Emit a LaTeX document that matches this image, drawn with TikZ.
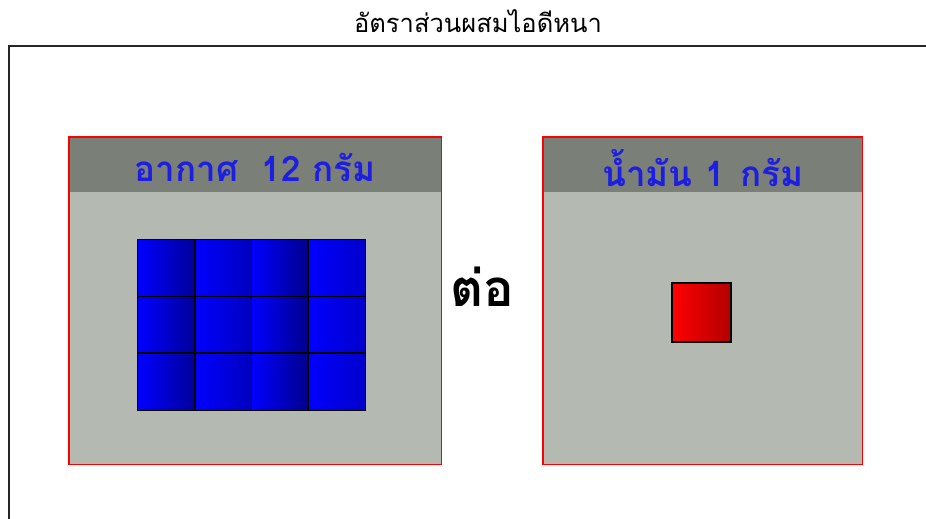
\documentclass[tikz,border=0pt]{standalone}
\usepackage{fontspec}
\newfontfamily\thaifont[Script=Thai]{Loma}
\usetikzlibrary{positioning}
\definecolor{panelgray}{RGB}{180,186,178}
\definecolor{headgray}{RGB}{122,128,120}
\definecolor{headblue}{RGB}{30,30,225}

\begin{document}
\begin{tikzpicture}[
  x=1pt, y=-1pt,
  panel/.style={fill=panelgray, inner sep=0pt, anchor=north west},
  rim/.style={draw=red, line width=1.6pt},
  header/.style={fill=headgray, inner sep=0pt, minimum height=55pt, anchor=north},
  headtext/.style={font=\thaifont\bfseries\fontsize{35}{35}\selectfont, text=headblue, inner sep=0pt},
  cell/.style={minimum width=56.75pt, minimum height=56.67pt, inner sep=0pt},
  edge/.style={draw=black, line width=1.3pt},
  title/.style={font=\thaifont\fontsize{25.5}{25.5}\selectfont}
]
\useasboundingbox (0,0) rectangle (926,519);

% outer frame
\draw[line width=1.8pt, black!85] (9,519) -- (9,46) -- (926,46);
\node[title] (title) at (478,21) {อัตราส่วนผสมไอดีหนา};

% air panel
\node[panel, minimum width=372pt, minimum height=327pt] (airpanel) at (69,137) {};
\node[header, minimum width=372pt] (airhead) at (airpanel.north) {};
\node[headtext] (airlabel) at ([yshift=-3pt]airhead.center) {อากาศ~~12 กรัม};
\draw[rim] (airpanel.north west) rectangle (airpanel.south east);
\foreach \col/\shade in {0/60,1/75,2/55,3/80}
  \foreach \row in {0,1,2}
    \node[cell, left color=blue, right color=blue!\shade!black] (air\col\row)
      at ({166.4+\col*56.75},{268.3+\row*56.67}) {};
\foreach \col in {0,...,3}
  \foreach \row in {0,1,2}
    \draw[edge] (air\col\row.north west) rectangle (air\col\row.south east);

% fuel panel
\node[panel, minimum width=319pt, minimum height=327pt] (fuelpanel) at (543,137) {};
\node[header, minimum width=319pt] (fuelhead) at (fuelpanel.north) {};
\node[headtext] (fuellabel) at ([yshift=-3pt]fuelhead.center) {น้ำมัน\hspace{13pt}1\hspace{15pt}กรัม};
\draw[rim] (fuelpanel.north west) rectangle (fuelpanel.south east);
\node[cell, edge, minimum width=59pt, minimum height=59pt, left color=red, right color=red!70!black] (fuel) at (701.5,312.5) {};

% ratio word
\node[font=\thaifont\bfseries\fontsize{51}{51}\selectfont] (ratio) at (482,287) {ต่อ};
\end{tikzpicture}
\end{document}
